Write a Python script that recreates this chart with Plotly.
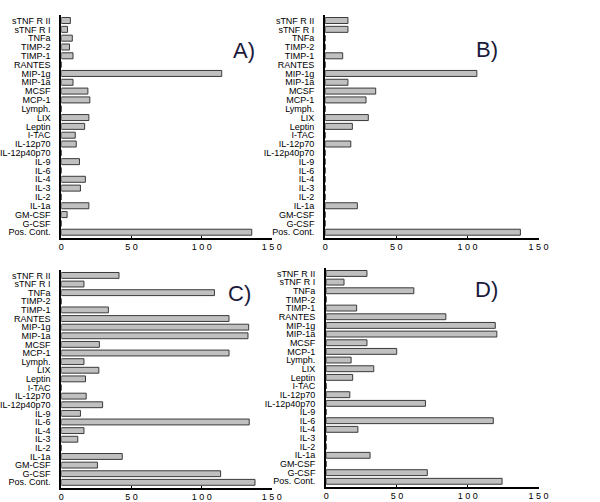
import plotly.graph_objects as go

categories = ["sTNF R II", "sTNF R I", "TNFa", "TIMP-2", "TIMP-1", "RANTES", "MIP-1g", "MIP-1a",
              "MCSF", "MCP-1", "Lymph.", "LIX", "Leptin", "I-TAC", "IL-12p70", "IL-12p40p70",
              "IL-9", "IL-6", "IL-4", "IL-3", "IL-2", "IL-1a", "GM-CSF", "G-CSF", "Pos. Cont."]

values_a = [6.4, 4.4, 7.8, 5.8, 8.3, 0, 114.3, 8.3, 18.9, 20.3, 0, 19.6, 16.6, 9.9, 10.6, 0,
            12.9, 0, 17.1, 13.6, 0, 19.6, 4.1, 0, 135.7]
values_b = [16, 16, 0, 0, 12.3, 0, 106.6, 16, 35.5, 28.7, 0, 30.3, 19.1, 0, 18, 0,
            0, 0, 0, 0, 0, 22.6, 0, 0, 137.2]
values_c = [41.1, 16.1, 109.1, 0, 33.5, 119.5, 133.5, 133, 27.1, 119.5, 16.1, 26.7, 17.2, 0, 17.7, 29.4,
            13.6, 133.9, 16.1, 11.7, 0, 43.4, 25.7, 113.5, 138]
values_d = [28.8, 12.6, 61.9, 0, 21.5, 84.5, 119.4, 120.5, 28.8, 49.8, 17.6, 33.6, 18.7, 0, 16.7, 70.1,
            0, 118, 22.4, 0, 0, 31, 0, 71.4, 124.2]

panel_labels = ["A)", "B)", "C)", "D)"]
tick_vals = [0, 50, 100, 150]
tick_text = ["0", "5 0", "1 0 0", "1 5 0"]

panels = [
    (values_a, [0.0917, 0.4533], [0.526, 0.970], (243, 36)),
    (values_b, [0.545, 0.9117], [0.526, 0.970], (507, 35)),
    (values_c, [0.0917, 0.4533], [0.028, 0.462], (239, 293)),
    (values_d, [0.5467, 0.9117], [0.030, 0.466], (507, 289)),
]

fig = go.Figure()
W, H = 600, 502
font_fam = "Liberation Sans, Arial, sans-serif"

for i, (vals, xd, yd, lab) in enumerate(panels):
    n = "" if i == 0 else str(i + 1)
    fig.add_trace(go.Bar(
        x=vals, y=categories, orientation="h",
        marker=dict(color="#c0c0c0", line=dict(color="#3a3a3a", width=1)),
        xaxis="x" + n, yaxis="y" + n, showlegend=False,
    ))
    fig.update_layout(**{
        "xaxis" + n: dict(domain=xd, range=[0, 150], anchor="y" + n,
                          tickmode="array", tickvals=tick_vals, ticktext=tick_text,
                          showline=True, linecolor="black", linewidth=2,
                          ticks="inside", ticklen=2, tickcolor="black",
                          showgrid=False, zeroline=False, ticklabelstandoff=-1,
                          tickfont=dict(size=9, color="black", family=font_fam)),
        "yaxis" + n: dict(domain=yd, anchor="x" + n, type="category",
                          categoryorder="array", categoryarray=categories,
                          tickmode="array", tickvals=categories, ticktext=categories,
                          range=[24.65, -0.62],
                          showline=True, linecolor="black", linewidth=2,
                          ticks="", showgrid=False, zeroline=False,
                          ticklabelstandoff=7,
                          tickfont=dict(size=9, color="black", family=font_fam)),
    })
    fig.add_annotation(x=lab[0] / W, y=1 - lab[1] / H, xref="paper", yref="paper",
                       text=panel_labels[i], showarrow=False,
                       font=dict(size=22, color="#1a1a3a", family=font_fam))

fig.update_layout(width=W, height=H, margin=dict(l=0, r=0, t=0, b=0),
                  plot_bgcolor="white", paper_bgcolor="white", bargap=0.32)

fig.write_html("out.html", config={"displayModeBar": False},
               post_script="document.body.style.margin='0';document.body.style.padding='0';")
